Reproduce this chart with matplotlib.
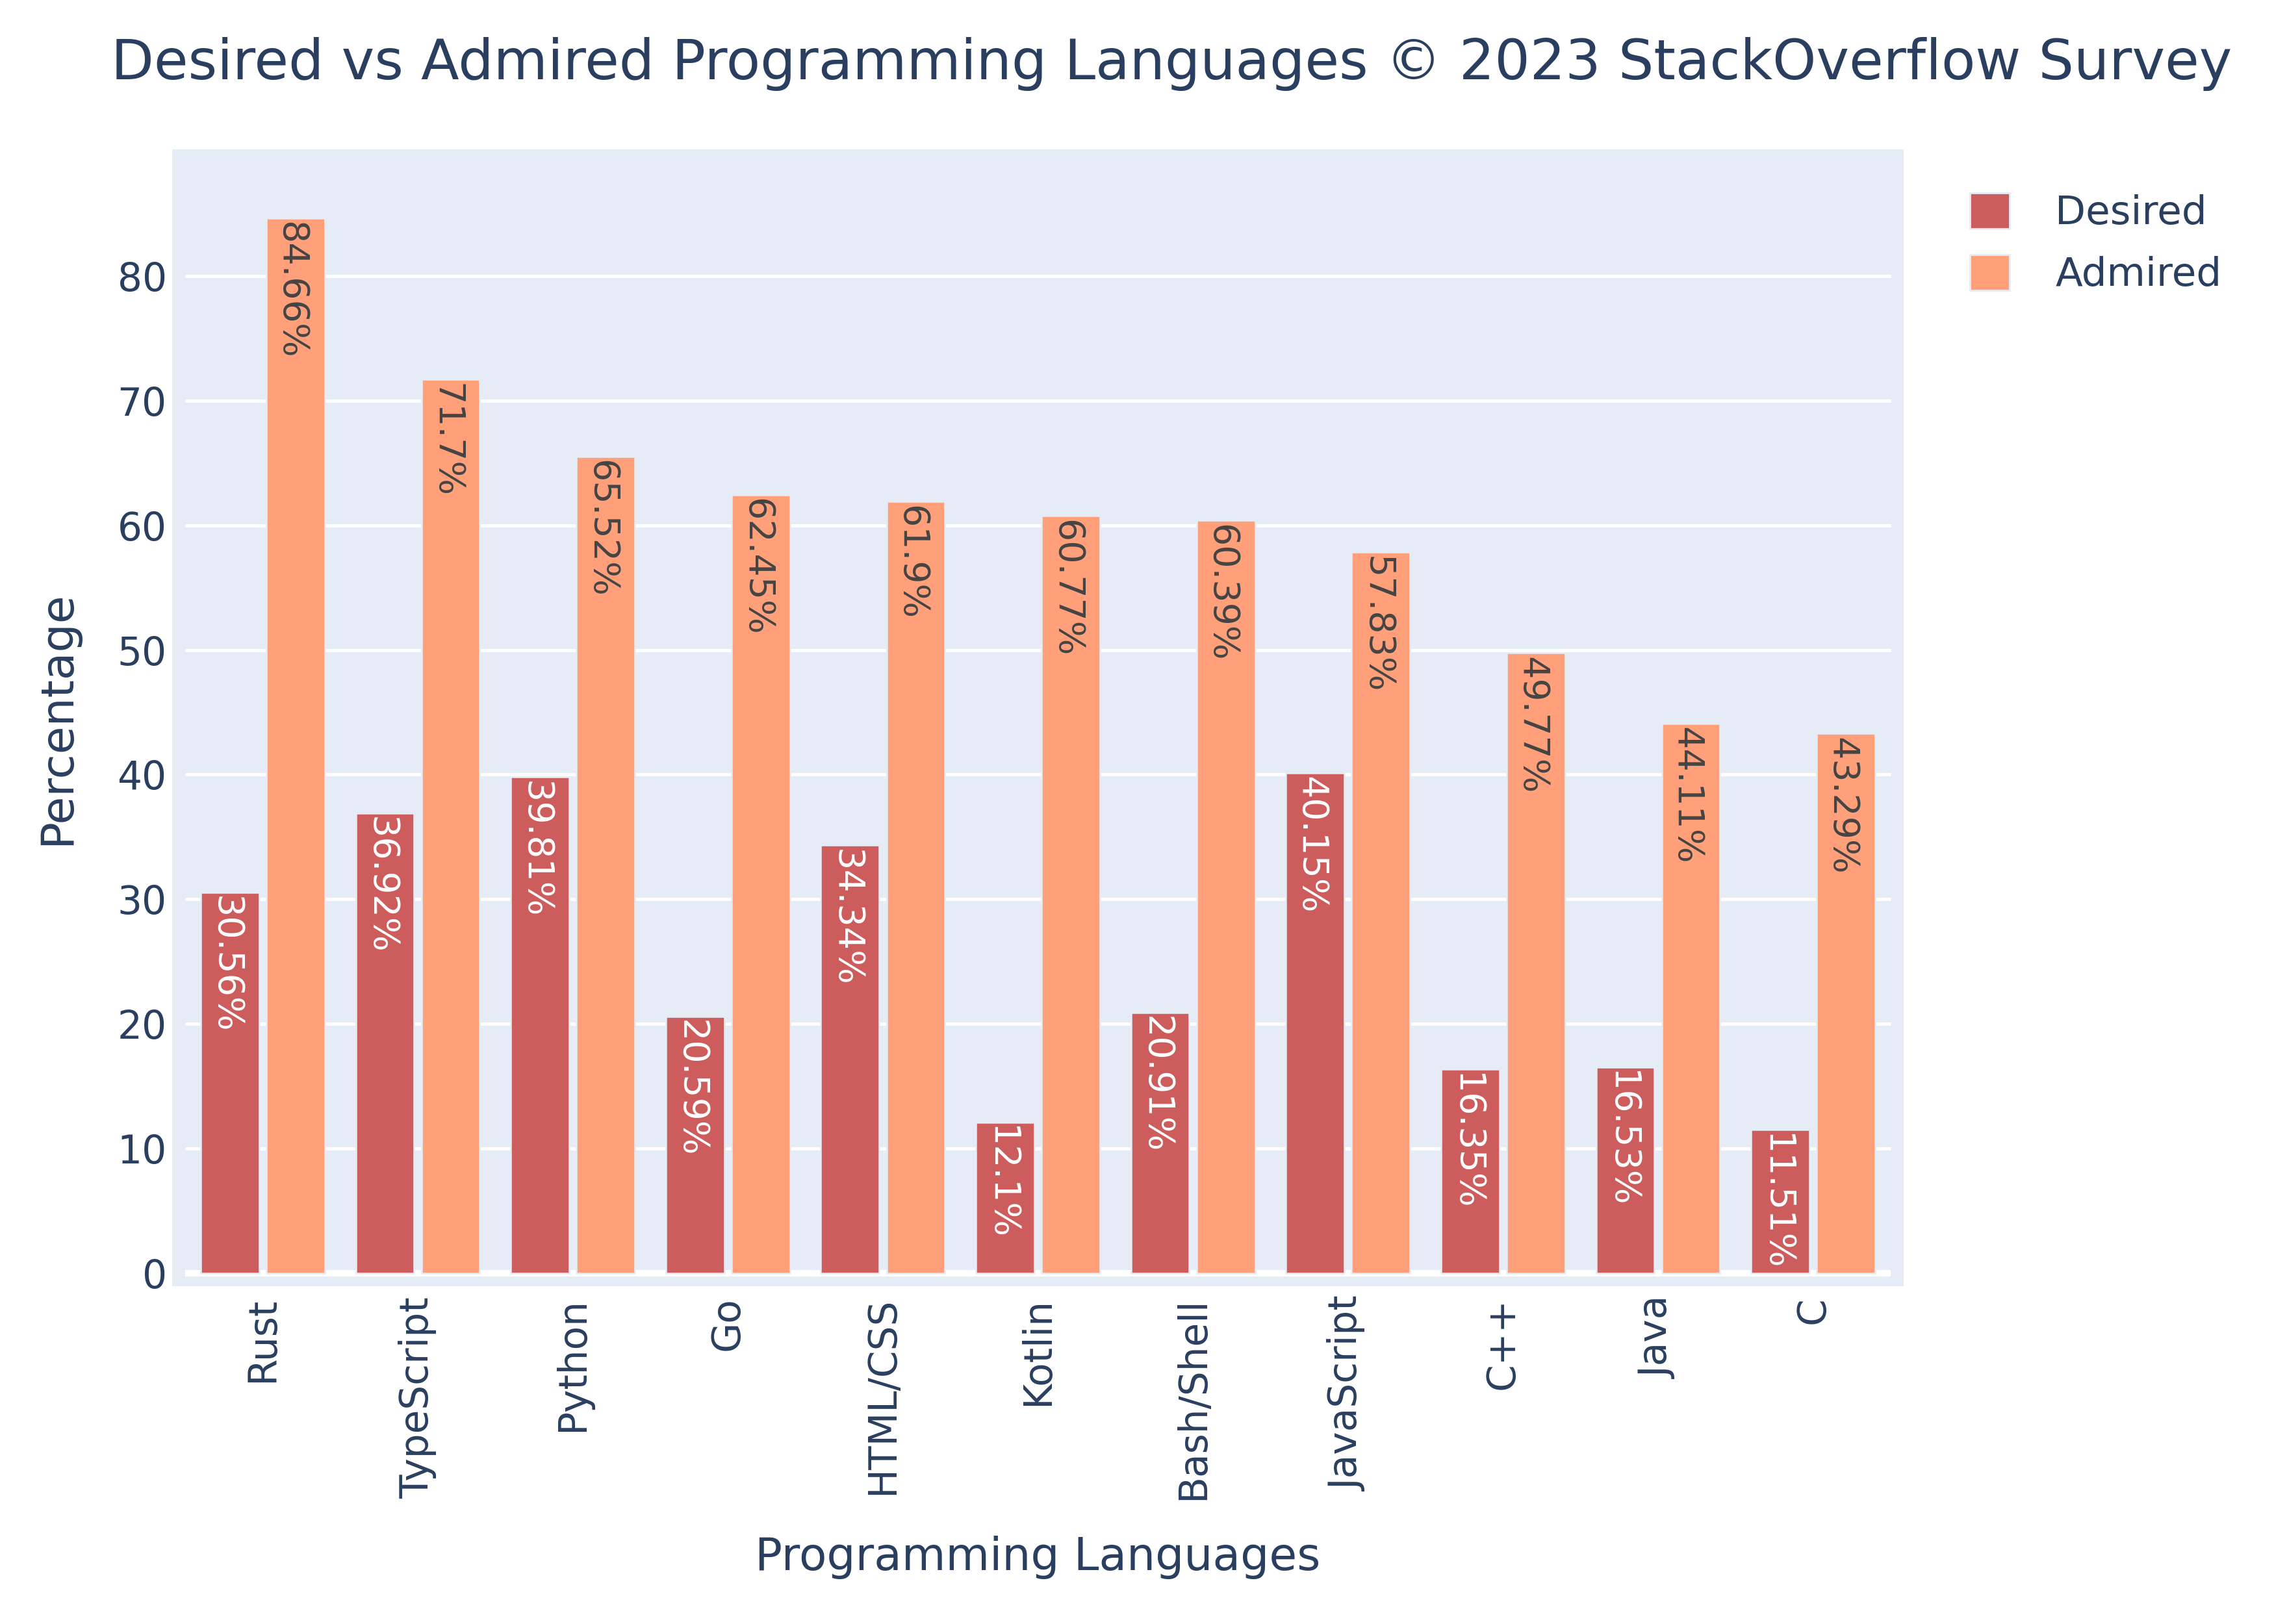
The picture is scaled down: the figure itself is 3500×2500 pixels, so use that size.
import numpy as np
import matplotlib.pyplot as plt
from matplotlib.patches import Patch

languages = ['Rust', 'TypeScript', 'Python', 'Go', 'HTML/CSS', 'Kotlin',
             'Bash/Shell', 'JavaScript', 'C++', 'Java', 'C']
desired = [30.56, 36.92, 39.81, 20.59, 34.34, 12.1, 20.91, 40.15, 16.35, 16.53, 11.51]
admired = [84.66, 71.7, 65.52, 62.45, 61.9, 60.77, 60.39, 57.83, 49.77, 44.11, 43.29]
yticks = [0, 10, 20, 30, 40, 50, 60, 70, 80]

BG = '#E5ECF6'
TXT = '#2A3F5F'
C_DES = '#CD5C5C'
C_ADM = '#FFA07A'

plt.rcParams['font.family'] = ['DejaVu Sans']

W, H = 3500, 2500
fig = plt.figure(figsize=[35, 25], dpi=100)
# plot background rectangle in pixels: x 265..2930, y 230..1980
ax = fig.add_axes([265 / W, 1 - 1980 / H, (2930 - 265) / W, (1980 - 230) / H])
ax.set_facecolor(BG)
for s in ax.spines.values():
    s.set_visible(False)

x = np.arange(len(languages))
bw = 0.376
off = 0.212

ax.set_xlim(-0.5 - 20 / 238.6, len(languages) - 0.5 + 20 / 238.6)
ax.set_ylim(-20 / 19.19, 89.12 + 20 / 19.19)

# grid (inset like plotly)
for t in yticks[1:]:
    ax.hlines(t, -0.5, len(languages) - 0.5, color='white', lw=3.6, zorder=0.5)
ax.hlines(0, -0.5, len(languages) - 0.5, color='white', lw=7.2, zorder=1)

b1 = ax.bar(x - off, desired, bw, color=C_DES, edgecolor=BG, linewidth=1.8, zorder=2)
b2 = ax.bar(x + off, admired, bw, color=C_ADM, edgecolor=BG, linewidth=1.8, zorder=2)

# value labels inside the bars, reading top to bottom
for xi, v in zip(x, desired):
    ax.annotate(f'{v}%', (xi - off, v), xytext=(-5, -4), textcoords='offset points',
                rotation=-90, ha='center', va='top', fontsize=40, color='white', zorder=3)
for xi, v in zip(x, admired):
    ax.annotate(f'{v}%', (xi + off, v), xytext=(-5, -4), textcoords='offset points',
                rotation=-90, ha='center', va='top', fontsize=40, color='#444444', zorder=3)

ax.set_xticks(x)
ax.set_xticklabels(languages, rotation=90, fontsize=43, color=TXT)
ax.set_yticks(yticks)
ax.set_yticklabels([str(t) for t in yticks], fontsize=43, color=TXT)
ax.tick_params(axis='x', length=0, pad=12)
ax.tick_params(axis='y', length=0, pad=6)

fig.text(1803 / W, 1 - 122 / H, 'Desired vs Admired Programming Languages © 2023 StackOverflow Survey',
         ha='center', va='baseline', fontsize=61.7, color=TXT)
fig.text(88 / W, 1 - 1105 / H, 'Percentage', rotation=90, ha='center', va='center',
         fontsize=50, color=TXT)
fig.text(1597 / W, 1 - 2417 / H, 'Programming Languages', ha='center', va='baseline',
         fontsize=50, color=TXT)

handles = [Patch(facecolor=C_DES, edgecolor=BG, linewidth=2, label='Desired'),
           Patch(facecolor=C_ADM, edgecolor=BG, linewidth=2, label='Admired')]
leg = fig.legend(handles=handles, loc='upper left', bbox_to_anchor=(3032 / W, 1 - 297 / H),
                 frameon=False, fontsize=44, handlelength=1.0, handleheight=1.0,
                 handletextpad=1.15, labelspacing=0.55, borderpad=0, borderaxespad=0)
for t in leg.get_texts():
    t.set_color(TXT)

fig.savefig('out.png', dpi=100)
